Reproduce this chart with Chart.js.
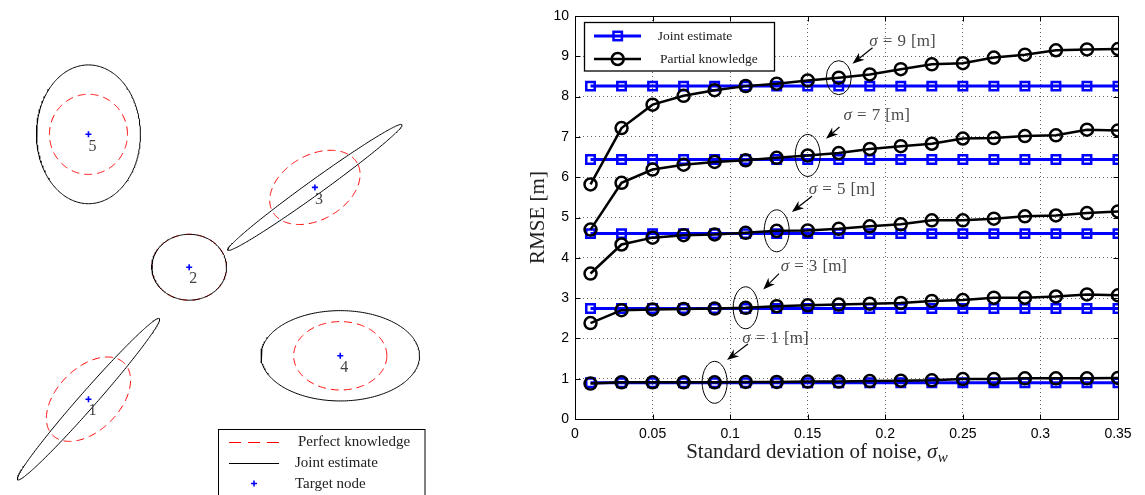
<!DOCTYPE html>
<html><head><meta charset="utf-8">
<script src="https://cdn.jsdelivr.net/npm/chart.js@4.4.1/dist/chart.umd.min.js"></script>
<style>
html,body{margin:0;padding:0;background:#fff;width:1145px;height:495px;overflow:hidden}
#left{position:absolute;left:0;top:0;width:445px;height:495px}
#right{position:absolute;left:445px;top:0;width:700px;height:495px}
canvas{display:block}
</style></head><body>
<div id="left"><canvas id="c1" width="445" height="495"></canvas></div>
<div id="right"><canvas id="c2" width="700" height="495"></canvas></div>
<script>
// ---------- Left panel data (node layout units) ----------
const nodeIds = ['1','2','3','4','5'];
const nodeX = [85, 188.3, 317.3, 343.3, 85];
const nodeY = [402.7, 267.7, 186, 358.3, 131.7];
const jointSemiMajor = [110, 38.3, 110, 81.3, 53.3];
const jointSemiMinor = [8.5, 33.7, 7.5, 46.2, 71];
const jointAngleDeg = [48.6, 0, 35.7, 0, 0];
const perfectSemiMajor = [52, 38.3, 50, 47.8, 40];
const perfectSemiMinor = [32, 33.7, 33, 35, 41];
const perfectAngleDeg = [45, 0, 30, 0, 0];

// ---------- Right panel data ----------
const noiseStd = [0.01,0.03,0.05,0.07,0.09,0.11,0.13,0.15,0.17,0.19,0.21,0.23,0.25,0.27,0.29,0.31,0.33,0.35];
const sigmaLevels = [1,3,5,7,9];
const jointSigma1 = [0.90,0.90,0.90,0.90,0.90,0.90,0.90,0.90,0.90,0.90,0.90,0.90,0.90,0.90,0.90,0.90,0.90,0.90];
const jointSigma3 = [2.74,2.74,2.74,2.74,2.74,2.74,2.74,2.74,2.74,2.74,2.74,2.74,2.74,2.74,2.74,2.74,2.74,2.74];
const jointSigma5 = [4.60,4.60,4.60,4.60,4.60,4.60,4.60,4.60,4.60,4.60,4.60,4.60,4.60,4.60,4.60,4.60,4.60,4.60];
const jointSigma7 = [6.44,6.44,6.44,6.44,6.44,6.44,6.44,6.44,6.44,6.44,6.44,6.44,6.44,6.44,6.44,6.44,6.44,6.44];
const jointSigma9 = [8.26,8.26,8.26,8.26,8.26,8.26,8.26,8.26,8.26,8.26,8.26,8.26,8.26,8.26,8.26,8.26,8.26,8.26];
const partialSigma1 = [0.88,0.91,0.91,0.91,0.91,0.92,0.92,0.93,0.93,0.94,0.95,0.96,0.99,0.99,1.01,1.01,1.01,1.02];
const partialSigma3 = [2.38,2.70,2.72,2.73,2.74,2.76,2.80,2.82,2.84,2.86,2.88,2.93,2.95,3.01,3.01,3.04,3.09,3.07];
const partialSigma5 = [3.61,4.33,4.50,4.56,4.58,4.62,4.67,4.68,4.72,4.78,4.83,4.93,4.93,4.97,5.03,5.05,5.11,5.15];
const partialSigma7 = [4.70,5.86,6.19,6.31,6.38,6.42,6.48,6.54,6.60,6.70,6.77,6.83,6.96,6.97,7.02,7.04,7.18,7.16];
const partialSigma9 = [5.82,7.22,7.80,8.02,8.16,8.26,8.32,8.40,8.47,8.55,8.68,8.80,8.83,8.97,9.04,9.15,9.17,9.18];
const yTickValues = [0,1,2,3,4,5,6,7,8,9,10];
const xTickLabels = ['0','0.05','0.1','0.15','0.2','0.25','0.3','0.35'];

const jointSeries = [jointSigma1, jointSigma3, jointSigma5, jointSigma7, jointSigma9];
const partialSeries = [partialSigma1, partialSigma3, partialSigma5, partialSigma7, partialSigma9];

// annotation callouts: circled point index, offsets in px relative to circled point
const callouts = [
  {sigma:1, idx:4, ry:21, label:[60.8,-44.9], tail:[33.2,-38.3], head:[12.4,-22.3]},
  {sigma:3, idx:5, ry:21, label:[68.2,-42.5], tail:[33.3,-34.2], head:[17.6,-18.2]},
  {sigma:5, idx:6, ry:21, label:[65.3,-42.2], tail:[35.3,-34.5], head:[15.2,-18.8]},
  {sigma:7, idx:7, ry:21, label:[69.0,-40.8], tail:[31.8,-28.4], head:[18.3,-16.8]},
  {sigma:9, idx:8, ry:17, label:[63.7,-37.3], tail:[33.8,-30.0], head:[13.7,-14.0]}
];

const SERIF = '"Liberation Serif","Times New Roman",serif';
const SANS = '"Liberation Sans",Arial,Helvetica,sans-serif';

// ---------- Left chart ----------
function ellipsePoints(cx, cy, a, b, deg){
  const th = deg*Math.PI/180, pts = [];
  for (let k=0;k<=240;k++){
    const t = 2*Math.PI*k/240;
    pts.push({x: cx + a*Math.cos(th)*Math.cos(t) - b*Math.sin(th)*Math.sin(t),
              y: cy - (a*Math.sin(th)*Math.cos(t) + b*Math.cos(th)*Math.sin(t))});
  }
  return pts;
}
const leftDatasets = [];
nodeIds.forEach((id,i)=>{
  leftDatasets.push({label:'Perfect knowledge', data: ellipsePoints(nodeX[i],nodeY[i],perfectSemiMajor[i],perfectSemiMinor[i],perfectAngleDeg[i]),
    showLine:true, borderColor:'#ff0000', borderWidth:1, borderDash:[8,5], pointRadius:0, fill:false, tension:0, order:3});
  leftDatasets.push({label:'Joint estimate', data: ellipsePoints(nodeX[i],nodeY[i],jointSemiMajor[i],jointSemiMinor[i],jointAngleDeg[i]),
    showLine:true, borderColor:'#000000', borderWidth:1, pointRadius:0, fill:false, tension:0, order:2});
});
leftDatasets.push({label:'Target node', data: nodeIds.map((id,i)=>({x:nodeX[i], y:nodeY[i]})),
  showLine:false, pointStyle:'cross', pointRadius:3, pointBorderWidth:1.6, borderColor:'#0000ff', backgroundColor:'#0000ff', order:1});

const leftDecor = {
  id:'leftDecor',
  afterDatasetsDraw(chart){
    const {ctx, scales:{x,y}} = chart;
    ctx.save();
    ctx.fillStyle = '#444';
    ctx.font = '16px '+SERIF;
    ctx.textAlign = 'center'; ctx.textBaseline = 'middle';
    nodeIds.forEach((id,i)=>{
      ctx.fillText(id, x.getPixelForValue(nodeX[i])+4, y.getPixelForValue(nodeY[i])+12);
    });
    // legend box
    ctx.strokeStyle = '#000'; ctx.lineWidth = 1;
    ctx.fillStyle = '#fff';
    ctx.fillRect(218.5, 429.5, 206.5, 80);
    ctx.strokeRect(218.5, 429.5, 206.5, 80);
    ctx.beginPath(); ctx.setLineDash([12,7]); ctx.strokeStyle='#ff0000';
    ctx.moveTo(229,442.5); ctx.lineTo(279,442.5); ctx.stroke();
    ctx.setLineDash([]); ctx.strokeStyle='#000';
    ctx.beginPath(); ctx.moveTo(229,463.5); ctx.lineTo(279,463.5); ctx.stroke();
    ctx.strokeStyle='#0000ff'; ctx.lineWidth=1.6;
    ctx.beginPath(); ctx.moveTo(251,483.5); ctx.lineTo(257,483.5); ctx.moveTo(254,480.5); ctx.lineTo(254,486.5); ctx.stroke();
    ctx.fillStyle='#222'; ctx.font='15px '+SERIF; ctx.textAlign='left'; ctx.textBaseline='middle';
    ctx.fillText('Perfect knowledge', 298, 442.5);
    ctx.fillText('Joint estimate', 295, 463.5);
    ctx.fillText('Target node', 295, 484.5);
    ctx.restore();
  }
};

new Chart(document.getElementById('c1'), {
  type:'scatter',
  data:{datasets:leftDatasets},
  options:{
    responsive:false, animation:false, devicePixelRatio:1,
    layout:{padding:0},
    plugins:{legend:{display:false}, tooltip:{enabled:false}},
    scales:{
      x:{type:'linear', min:0, max:445, display:false},
      y:{type:'linear', min:0, max:495, reverse:true, display:false}
    }
  },
  plugins:[leftDecor]
});

// ---------- Right chart ----------
const rightDatasets = [];
partialSeries.forEach((vals,k)=>{
  rightDatasets.push({label:'Partial knowledge', data: noiseStd.map((v,j)=>({x:v, y:vals[j]})),
    showLine:true, borderColor:'#000', borderWidth:2.5, pointStyle:'circle', pointRadius:6,
    pointBorderWidth:2.5, pointBorderColor:'#000', pointBackgroundColor:'rgba(0,0,0,0)', tension:0, order:0});
});
jointSeries.forEach((vals,k)=>{
  rightDatasets.push({label:'Joint estimate', data: noiseStd.map((v,j)=>({x:v, y:vals[j]})),
    showLine:true, borderColor:'#0000ff', borderWidth:3, pointStyle:'rect', pointRadius:6,
    pointBorderWidth:2.5, pointBorderColor:'#0000ff', pointBackgroundColor:'rgba(0,0,0,0)', tension:0, order:1});
});

function drawPieces(ctx, pieces, cx, cy, align){
  let w = 0;
  pieces.forEach(p=>{ ctx.font = p.font; p.w = p.text ? ctx.measureText(p.text).width : 0; w += p.w + (p.gap||0); });
  let xx = align==='center' ? cx - w/2 : cx;
  ctx.textAlign='left'; ctx.textBaseline='alphabetic';
  pieces.forEach(p=>{
    if (p.text){ ctx.font = p.font; ctx.fillText(p.text, xx, cy + (p.dy||0)); }
    xx += p.w + (p.gap||0);
  });
}

const rightDecor = {
  id:'rightDecor',
  beforeDatasetsDraw(chart){
    const {ctx, chartArea:a, scales:{x,y}} = chart;
    ctx.save();
    ctx.strokeStyle='#000'; ctx.lineWidth=1;
    const L=Math.round(a.left)+0.5, T=Math.round(a.top)+0.5, R=Math.round(a.right)+0.5, B=Math.round(a.bottom)+0.5;
    ctx.strokeRect(L, T, R-L, B-T);
    ctx.beginPath();
    x.ticks.forEach(t=>{const px=Math.round(x.getPixelForValue(t.value))+0.5; ctx.moveTo(px,B); ctx.lineTo(px,B-5); ctx.moveTo(px,T); ctx.lineTo(px,T+5);});
    y.ticks.forEach(t=>{const py=Math.round(y.getPixelForValue(t.value))+0.5; ctx.moveTo(L,py); ctx.lineTo(L+5,py); ctx.moveTo(R,py); ctx.lineTo(R-5,py);});
    ctx.stroke();
    ctx.restore();
  },
  afterDatasetsDraw(chart){
    const {ctx, chartArea:a, scales:{x,y}} = chart;
    ctx.save();
    // callouts
    callouts.forEach(c=>{
      const k = sigmaLevels.indexOf(c.sigma);
      const px = x.getPixelForValue(noiseStd[c.idx]);
      const py = y.getPixelForValue(partialSeries[k][c.idx]);
      ctx.strokeStyle='#000'; ctx.lineWidth=1;
      ctx.beginPath(); ctx.ellipse(px, py, 12.5, c.ry, 0, 0, 2*Math.PI); ctx.stroke();
      const tx=px+c.tail[0], ty=py+c.tail[1], hx=px+c.head[0], hy=py+c.head[1];
      const ang=Math.atan2(hy-ty,hx-tx), HL=12, HW=4.5;
      ctx.lineWidth=1.2;
      ctx.beginPath(); ctx.moveTo(tx,ty); ctx.lineTo(hx-HL*0.6*Math.cos(ang), hy-HL*0.6*Math.sin(ang)); ctx.stroke();
      ctx.fillStyle='#000';
      ctx.beginPath(); ctx.moveTo(hx,hy);
      ctx.lineTo(hx-HL*Math.cos(ang)+HW*Math.sin(ang), hy-HL*Math.sin(ang)-HW*Math.cos(ang));
      ctx.lineTo(hx-HL*0.7*Math.cos(ang), hy-HL*0.7*Math.sin(ang));
      ctx.lineTo(hx-HL*Math.cos(ang)-HW*Math.sin(ang), hy-HL*Math.sin(ang)+HW*Math.cos(ang));
      ctx.closePath(); ctx.fill();
      ctx.fillStyle='#4a4a4a';
      const fs=17;
      drawPieces(ctx, [
        {text:'σ', font:'italic '+fs+'px '+SERIF, gap:fs*0.3},
        {text:'=', font:fs+'px '+SERIF, gap:fs*0.3},
        {text:String(c.sigma), font:fs+'px '+SERIF, gap:fs*0.3},
        {text:'[m]', font:fs+'px '+SERIF}
      ], px+c.label[0], py+c.label[1]+5.5, 'center');
    });
    // legend
    const lx=a.left, ly=a.top;
    ctx.fillStyle='#fff'; ctx.strokeStyle='#000'; ctx.lineWidth=1.3;
    ctx.fillRect(lx+9.5, ly+6.5, 190, 48.5);
    ctx.strokeRect(lx+9.5, ly+6.5, 190, 48.5);
    ctx.lineWidth=3; ctx.strokeStyle='#0000ff';
    ctx.beginPath(); ctx.moveTo(lx+19, ly+20); ctx.lineTo(lx+66, ly+20); ctx.stroke();
    ctx.lineWidth=2.5;
    ctx.strokeRect(lx+42.7-4.2, ly+20-4.2, 8.4, 8.4);
    ctx.lineWidth=2.5; ctx.strokeStyle='#000';
    ctx.beginPath(); ctx.moveTo(lx+19, ly+43); ctx.lineTo(lx+66, ly+43); ctx.stroke();
    ctx.beginPath(); ctx.arc(lx+42.7, ly+43, 6, 0, 2*Math.PI); ctx.stroke();
    ctx.fillStyle='#222'; ctx.font='13.5px '+SERIF; ctx.textAlign='left'; ctx.textBaseline='middle';
    ctx.fillText('Joint estimate', lx+82.7, ly+20);
    ctx.fillText('Partial knowledge', lx+85, ly+43);
    // x-axis title with subscript
    ctx.fillStyle='#222';
    drawPieces(ctx, [
      {text:'Standard deviation of noise, ', font:'21px '+SERIF},
      {text:'σ', font:'italic 21px '+SERIF, gap:0.5},
      {text:'w', font:'italic 15px '+SERIF, dy:4}
    ], a.left+242, 458, 'center');
    ctx.restore();
  }
};

new Chart(document.getElementById('c2'), {
  type:'scatter',
  data:{datasets:rightDatasets},
  options:{
    responsive:false, animation:false, devicePixelRatio:1,
    layout:{padding:{top:16, right:27, left:0, bottom:0}},
    plugins:{legend:{display:false}, tooltip:{enabled:false}},
    scales:{
      x:{type:'linear', min:0, max:0.35,
        afterBuildTicks(s){ s.ticks = xTickLabels.map(l=>({value:parseFloat(l)})); },
        ticks:{font:{family:SANS, size:14}, color:'#000', padding:7,
          callback:(v,i)=>xTickLabels[i]},
        grid:{color:'rgba(0,0,0,0.6)', lineWidth:1, drawTicks:false},
        border:{display:false, dash:[1,3]},
        afterFit(s){ s.height = 76; }
      },
      y:{type:'linear', min:0, max:10,
        afterBuildTicks(s){ s.ticks = yTickValues.map(v=>({value:v})); },
        ticks:{font:{family:SANS, size:14}, color:'#000', padding:6, callback:(v)=>String(v)},
        grid:{color:'rgba(0,0,0,0.6)', lineWidth:1, drawTicks:false},
        border:{display:false, dash:[1,3]},
        title:{display:true, text:'RMSE [m]', color:'#222', font:{family:SERIF, size:21}, padding:{top:80.4, bottom:0}},
        afterFit(s){ s.width = 130; }
      }
    }
  },
  plugins:[rightDecor]
});
</script>
</body></html>
